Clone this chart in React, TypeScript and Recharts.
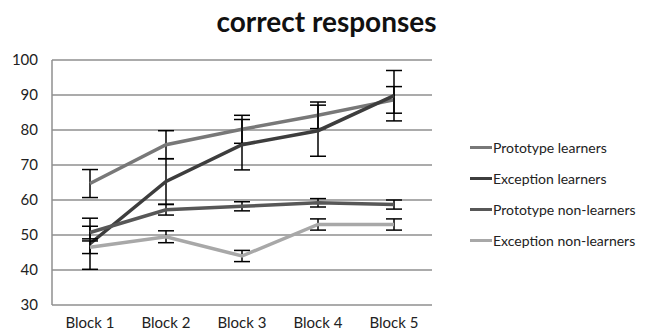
import React from "react";
import { LineChart, Line, XAxis, YAxis, CartesianGrid, ErrorBar } from "recharts";

// ---------------------------------------------------------------------------
// Data
// ---------------------------------------------------------------------------
const blocks = ["Block 1", "Block 2", "Block 3", "Block 4", "Block 5"];

const protoLearners = [64.7, 75.8, 80.2, 84.2, 88.6];
const protoLearnersErr = [4.0, 4.0, 4.0, 3.8, 3.8];

const excLearners = [47.5, 65.3, 75.8, 79.8, 89.8];
const excLearnersErr = [7.3, 6.5, 7.2, 7.3, 7.2];

const protoNon = [50.7, 57.2, 58.2, 59.2, 58.7];
const protoNonErr = [1.8, 1.5, 1.3, 1.2, 1.3];

const excNon = [46.5, 49.5, 44.0, 53.0, 53.0];
const excNonErr = [1.8, 1.7, 1.6, 1.6, 1.6];

const yTicks = [30, 40, 50, 60, 70, 80, 90, 100];

const series = [
  { key: "pl", name: "Prototype learners", color: "#787878" },
  { key: "el", name: "Exception learners", color: "#3d3d3d" },
  { key: "pn", name: "Prototype non-learners", color: "#575757" },
  { key: "en", name: "Exception non-learners", color: "#a8a8a8" },
];

const data = blocks.map((b, i) => ({
  block: b,
  pl: protoLearners[i],
  plErr: protoLearnersErr[i],
  el: excLearners[i],
  elErr: excLearnersErr[i],
  pn: protoNon[i],
  pnErr: protoNonErr[i],
  en: excNon[i],
  enErr: excNonErr[i],
}));

const FONT = "Lato, 'Open Sans', sans-serif";

export default function App() {
  return (
    <div
      style={{
        position: "fixed",
        left: 0,
        top: 0,
        width: 653,
        height: 335,
        background: "#fff",
        fontFamily: FONT,
      }}
    >
      <div
        style={{
          position: "absolute",
          left: 0,
          width: 653,
          top: 4,
          textAlign: "center",
          fontSize: 28,
          fontWeight: 700,
          color: "#111",
        }}
      >
        correct responses
      </div>

      <LineChart
        width={653}
        height={335}
        data={data}
        margin={{ top: 60, right: 221, left: 0, bottom: 0 }}
      >
        <CartesianGrid vertical={false} stroke="#8f8f8f" strokeWidth={1.5} />
        <XAxis
          dataKey="block"
          height={30}
          axisLine={false}
          tickLine={false}
          padding={{ left: 38, right: 38 }}
          tick={{ fontSize: 15, fill: "#222", fontFamily: FONT }}
          tickMargin={6}
        />
        <YAxis
          width={52}
          domain={[30, 100]}
          ticks={yTicks}
          interval={0}
          axisLine={{ stroke: "#8f8f8f", strokeWidth: 1.5 }}
          tickLine={false}
          tick={{ fontSize: 15, fill: "#222", fontFamily: FONT }}
          tickMargin={8}
        />
        {series.map((s) => (
          <Line
            key={s.key}
            dataKey={s.key}
            name={s.name}
            stroke={s.color}
            strokeWidth={3.5}
            dot={false}
            type="linear"
            isAnimationActive={false}
          >
            <ErrorBar
              dataKey={s.key + "Err"}
              width={8}
              stroke="#000"
              strokeWidth={1.5}
              direction="y"
              isAnimationActive={false}
            />
          </Line>
        ))}
      </LineChart>

      <div style={{ position: "absolute", left: 470, top: 132 }}>
        {series.map((s) => (
          <div
            key={s.key}
            style={{
              display: "flex",
              alignItems: "center",
              height: 31,
              fontSize: 14,
              color: "#222",
            }}
          >
            <span
              style={{
                display: "inline-block",
                width: 22,
                height: 3.5,
                background: s.color,
                marginRight: 1,
              }}
            />
            {s.name}
          </div>
        ))}
      </div>
    </div>
  );
}
